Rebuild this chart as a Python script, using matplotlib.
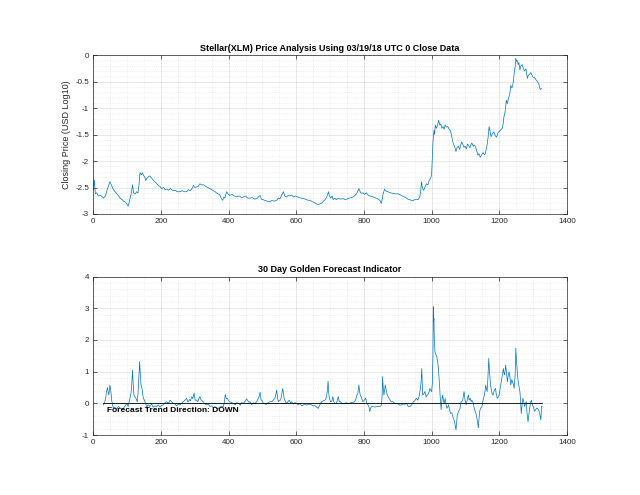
import matplotlib
matplotlib.use('Agg')
import matplotlib.pyplot as plt
from matplotlib.ticker import MultipleLocator

plt.rcParams['font.family'] = ['Liberation Sans', 'DejaVu Sans']

# log10 closing price
price_day = [0, 3, 6, 10, 15, 22, 30, 36, 40, 45, 49, 53, 58, 64, 70, 75, 79, 85, 90, 94, 98, 103, 106, 108,
             112, 116, 119, 124, 128, 132, 135, 138, 142, 145, 148, 152, 155, 158, 162, 167, 172, 177, 182,
             188, 193, 197, 202, 208, 212, 217, 222, 228, 236, 242, 248, 256, 262, 270, 276, 281, 286, 292,
             296, 300, 305, 310, 315, 320, 326, 332, 338, 345, 352, 360, 366, 374, 378, 382, 386, 389, 394,
             398, 404, 410, 416, 424, 432, 438, 443, 450, 456, 463, 470, 476, 483, 488, 493, 497, 502, 510,
             516, 522, 528, 534, 542, 547, 552, 557, 562, 566, 571, 576, 581, 586, 592, 597, 601, 608, 614,
             621, 628, 634, 640, 648, 655, 660, 665, 670, 676, 680, 685, 690, 695, 698, 702, 706, 709, 714,
             718, 724, 730, 738, 745, 752, 757, 764, 772, 778, 785, 789, 792, 797, 802, 807, 812, 817, 824,
             832, 840, 847, 851, 854, 856, 861, 866, 871, 878, 886, 893, 901, 908, 916, 924, 930, 936, 941,
             945, 950, 955, 960, 965, 968, 970, 973, 977, 981, 985, 989, 993, 997, 1000, 1002, 1004, 1007,
             1009, 1011, 1014, 1017, 1021, 1024, 1027, 1030, 1034, 1037, 1040, 1044, 1048, 1052, 1056, 1060,
             1064, 1068, 1072, 1075, 1079, 1083, 1086, 1089, 1093, 1096, 1099, 1103, 1106, 1109, 1113, 1116,
             1119, 1123, 1126, 1129, 1133, 1137, 1140, 1144, 1148, 1152, 1156, 1159, 1162, 1164, 1167, 1170,
             1173, 1176, 1180, 1184, 1188, 1192, 1196, 1199, 1203, 1206, 1209, 1212, 1214, 1217, 1221, 1224,
             1227, 1229, 1232, 1234, 1237, 1239, 1242, 1244, 1247, 1249, 1251, 1253, 1256, 1258, 1261, 1264,
             1268, 1271, 1275, 1279, 1283, 1286, 1290, 1293, 1297, 1300, 1303, 1307, 1310, 1313, 1317, 1321,
             1325]
price_log = [-2.55, -2.36, -2.62, -2.60, -2.66, -2.65, -2.70, -2.66, -2.56, -2.47, -2.39, -2.45, -2.52, -2.58,
             -2.62, -2.66, -2.70, -2.73, -2.76, -2.77, -2.80, -2.85, -2.78, -2.72, -2.62, -2.45, -2.60, -2.62,
             -2.58, -2.60, -2.45, -2.22, -2.26, -2.22, -2.27, -2.30, -2.37, -2.33, -2.30, -2.28, -2.32, -2.36,
             -2.39, -2.43, -2.47, -2.48, -2.52, -2.50, -2.54, -2.53, -2.55, -2.52, -2.56, -2.55, -2.58, -2.58,
             -2.56, -2.58, -2.58, -2.54, -2.56, -2.52, -2.46, -2.50, -2.49, -2.48, -2.43, -2.45, -2.45, -2.48,
             -2.50, -2.52, -2.55, -2.58, -2.61, -2.64, -2.70, -2.74, -2.68, -2.70, -2.58, -2.62, -2.65, -2.63,
             -2.66, -2.67, -2.66, -2.69, -2.68, -2.66, -2.70, -2.70, -2.69, -2.72, -2.71, -2.68, -2.65, -2.72,
             -2.73, -2.75, -2.76, -2.77, -2.74, -2.76, -2.74, -2.70, -2.71, -2.64, -2.58, -2.66, -2.68, -2.65,
             -2.66, -2.64, -2.68, -2.66, -2.67, -2.69, -2.70, -2.71, -2.72, -2.74, -2.74, -2.77, -2.79, -2.81,
             -2.82, -2.81, -2.79, -2.76, -2.73, -2.68, -2.58, -2.66, -2.70, -2.66, -2.73, -2.70, -2.73, -2.70,
             -2.72, -2.71, -2.73, -2.71, -2.70, -2.69, -2.66, -2.62, -2.52, -2.58, -2.61, -2.60, -2.63, -2.60,
             -2.64, -2.66, -2.67, -2.69, -2.71, -2.74, -2.80, -2.73, -2.64, -2.53, -2.57, -2.58, -2.60, -2.61,
             -2.62, -2.62, -2.64, -2.67, -2.69, -2.72, -2.73, -2.75, -2.75, -2.73, -2.72, -2.73, -2.68, -2.55,
             -2.39, -2.52, -2.55, -2.48, -2.43, -2.45, -2.37, -2.33, -2.26, -1.95, -1.65, -1.42, -1.50, -1.32,
             -1.38, -1.34, -1.23, -1.32, -1.30, -1.38, -1.35, -1.40, -1.32, -1.36, -1.35, -1.40, -1.43, -1.55,
             -1.67, -1.72, -1.82, -1.75, -1.72, -1.78, -1.70, -1.64, -1.70, -1.74, -1.72, -1.77, -1.68, -1.70,
             -1.75, -1.70, -1.66, -1.72, -1.70, -1.72, -1.80, -1.89, -1.86, -1.93, -1.88, -1.84, -1.88, -1.86,
             -1.75, -1.70, -1.55, -1.35, -1.45, -1.54, -1.48, -1.45, -1.52, -1.55, -1.47, -1.45, -1.42, -1.40,
             -1.38, -1.28, -1.16, -1.08, -0.85, -0.92, -0.82, -0.78, -0.70, -0.57, -0.62, -0.60, -0.48, -0.35,
             -0.22, -0.06, -0.12, -0.10, -0.18, -0.14, -0.28, -0.20, -0.18, -0.25, -0.30, -0.26, -0.44, -0.38,
             -0.36, -0.33, -0.38, -0.42, -0.42, -0.45, -0.48, -0.50, -0.55, -0.65, -0.63]

# forecast indicator
ind_day = [30, 34, 37, 39, 42, 44, 46, 49, 52, 55, 59, 63, 69, 74, 79, 84, 89, 94, 99, 103, 106, 108, 111, 113,
           116, 118, 120, 123, 126, 130, 132, 134, 137, 139, 141, 144, 146, 148, 151, 153, 156, 158, 161, 163,
           167, 172, 177, 182, 187, 192, 197, 202, 207, 212, 217, 222, 227, 231, 236, 241, 246, 251, 256, 261,
           266, 271, 276, 279, 281, 284, 287, 291, 294, 298, 301, 305, 309, 312, 315, 318, 322, 325, 330, 335,
           340, 345, 350, 355, 360, 365, 369, 374, 379, 384, 387, 390, 393, 396, 400, 404, 409, 414, 419, 424,
           429, 434, 438, 443, 448, 453, 457, 460, 463, 468, 473, 478, 483, 488, 491, 493, 496, 498, 503, 508,
           512, 517, 522, 527, 532, 537, 540, 542, 545, 547, 551, 554, 557, 560, 562, 564, 568, 571, 575, 579,
           583, 586, 591, 596, 601, 606, 611, 616, 621, 626, 631, 636, 640, 645, 650, 655, 660, 665, 668, 672,
           675, 680, 685, 688, 690, 692, 694, 696, 698, 701, 704, 706, 708, 711, 714, 718, 721, 724, 727, 730,
           734, 738, 743, 748, 752, 757, 762, 767, 772, 776, 779, 782, 785, 787, 789, 792, 795, 797, 801, 805,
           808, 812, 815, 817, 820, 824, 827, 832, 837, 842, 847, 850, 852, 854, 855, 857, 859, 861, 863, 866,
           869, 872, 877, 881, 886, 891, 896, 901, 906, 911, 916, 921, 926, 931, 936, 941, 946, 950, 955, 959,
           963, 967, 969, 971, 973, 974, 977, 980, 984, 987, 991, 995, 998, 1000, 1002, 1004, 1005, 1006, 1007,
           1008, 1010, 1012, 1015, 1018, 1020, 1022, 1024, 1025, 1027, 1028, 1030, 1032, 1035, 1037, 1040,
           1043, 1045, 1048, 1050, 1053, 1056, 1060, 1064, 1067, 1070, 1072, 1074, 1076, 1080, 1084, 1087,
           1089, 1092, 1094, 1096, 1099, 1102, 1105, 1107, 1109, 1111, 1114, 1117, 1119, 1122, 1125, 1129,
           1132, 1134, 1136, 1138, 1140, 1142, 1145, 1149, 1152, 1156, 1158, 1160, 1162, 1164, 1166, 1169,
           1171, 1172, 1174, 1176, 1179, 1182, 1185, 1189, 1191, 1194, 1197, 1200, 1203, 1206, 1209, 1212,
           1214, 1216, 1219, 1222, 1224, 1227, 1229, 1232, 1234, 1237, 1239, 1242, 1244, 1247, 1249, 1251,
           1252, 1254, 1256, 1259, 1261, 1263, 1265, 1267, 1270, 1272, 1275, 1278, 1280, 1282, 1285, 1287,
           1290, 1293, 1295, 1298, 1301, 1304, 1308, 1310, 1313, 1316, 1318, 1321, 1323, 1325, 1327]
ind_val = [-0.05, 0.05, 0.2, 0.37, 0.5, 0.35, 0.26, 0.58, 0.37, 0.05, -0.16, -0.12, -0.18, -0.10, -0.14, -0.20,
           -0.16, -0.08, 0.0, -0.10, 0.05, 0.16, 0.30, 0.47, 1.05, 0.60, 0.26, 0.20, 0.16, 0.05, 0.30, 0.68,
           1.32, 0.90, 0.58, 0.47, 0.30, 0.16, 0.10, 0.05, -0.05, -0.16, -0.05, -0.05, -0.10, -0.02, -0.12,
           -0.08, -0.10, -0.05, -0.12, -0.06, -0.05, 0.02, 0.05, 0.0, 0.10, 0.05, 0.0, -0.02, -0.08, -0.03,
           -0.05, 0.0, 0.05, 0.10, 0.16, 0.05, 0.05, 0.12, 0.08, 0.21, 0.15, 0.32, 0.10, 0.10, 0.05, 0.15, 0.21,
           0.12, 0.08, 0.05, -0.02, -0.05, -0.03, -0.10, -0.08, -0.14, -0.10, -0.16, -0.16, -0.12, -0.10,
           -0.10, 0.0, 0.28, 0.15, 0.16, 0.08, 0.05, 0.02, 0.0, -0.05, 0.02, 0.0, -0.06, 0.02, 0.0, 0.05, 0.14,
           0.08, 0.03, 0.05, -0.04, 0.02, 0.0, 0.05, 0.16, 0.25, 0.35, 0.10, 0.10, 0.0, -0.02, -0.03, 0.02,
           0.05, 0.05, 0.10, 0.16, 0.30, 0.42, 0.15, 0.05, 0.10, 0.10, 0.30, 0.47, 0.30, 0.16, 0.05, 0.0, 0.05,
           0.10, 0.02, 0.05, -0.02, 0.02, 0.0, -0.05, 0.0, -0.08, -0.05, -0.02, -0.06, -0.03, -0.03, -0.05,
           -0.08, -0.07, -0.12, -0.16, -0.08, 0.0, 0.05, 0.08, 0.10, 0.16, 0.26, 0.40, 0.70, 0.30, 0.16, 0.05,
           0.05, 0.10, 0.21, 0.05, 0.0, 0.0, 0.08, 0.21, 0.05, 0.05, 0.02, -0.02, 0.0, 0.02, 0.0, 0.0, 0.02,
           0.03, 0.05, 0.12, 0.26, 0.30, 0.58, 0.40, 0.26, 0.20, 0.10, 0.05, 0.10, 0.16, 0.02, -0.05, -0.12,
           -0.26, -0.14, -0.10, -0.10, -0.12, -0.10, -0.10, -0.10, -0.08, -0.05, 0.30, 0.84, 0.50, 0.26, 0.40,
           0.58, 0.40, 0.26, 0.20, 0.10, 0.05, 0.05, 0.0, 0.0, -0.02, -0.06, -0.05, -0.02, -0.03, 0.0, -0.10,
           -0.10, -0.05, 0.05, 0.08, 0.16, 0.10, 0.21, 0.47, 0.70, 1.10, 0.40, 0.26, 0.30, 0.37, 0.20, 0.26,
           0.30, 0.47, 0.40, 0.37, 0.60, 1.50, 3.05, 2.60, 2.68, 2.00, 1.63, 1.55, 1.50, 1.30, 1.10, 0.80, 0.50,
           0.26, 0.0, -0.20, 0.05, 0.26, 0.10, 0.0, 0.15, -0.05, -0.16, -0.10, -0.05, -0.20, -0.32, -0.30,
           -0.47, -0.55, -0.70, -0.84, -0.60, -0.37, -0.25, -0.16, 0.05, 0.05, 0.10, 0.25, 0.37, 0.10, -0.05,
           0.10, 0.20, 0.26, 0.10, 0.16, 0.05, 0.10, 0.05, -0.10, -0.26, -0.35, -0.47, -0.60, -0.77, -0.50,
           -0.26, -0.15, -0.10, 0.10, 0.26, 0.40, 0.58, 0.45, 0.37, 0.70, 1.42, 1.00, 0.90, 0.60, 0.47, 0.30,
           0.26, 0.40, 0.47, 0.30, 0.16, 0.20, 0.26, 0.50, 0.68, 0.90, 1.10, 0.95, 0.90, 1.21, 0.90, 0.68, 0.90,
           1.00, 0.80, 0.58, 0.75, 0.68, 0.60, 0.47, 0.90, 1.74, 1.30, 1.20, 0.90, 0.68, 0.50, 0.37, 0.10,
           -0.32, -0.10, 0.16, 0.05, -0.10, 0.0, 0.05, -0.30, -0.58, -0.40, -0.16, 0.05, 0.10, -0.05, -0.10,
           -0.25, -0.20, -0.15, -0.16, -0.20, -0.26, -0.40, -0.52, -0.10, -0.10]

title_top = 'Stellar(XLM) Price Analysis Using 03/19/18 UTC 0 Close Data'
title_bottom = '30 Day Golden Forecast Indicator'
ylabel_top = 'Closing Price (USD Log10)'
trend_text = 'Forecast Trend Direction: DOWN'

line_col = '#0072BD'
axis_col = '#262626'


def style_axes(ax, ymin, ymax, ystep, yminor):
    ax.set_xlim(0, 1400)
    ax.set_ylim(ymin, ymax)
    ax.xaxis.set_major_locator(MultipleLocator(200))
    ax.xaxis.set_minor_locator(MultipleLocator(50))
    ax.yaxis.set_major_locator(MultipleLocator(ystep))
    ax.yaxis.set_minor_locator(MultipleLocator(yminor))
    ax.grid(True, which='major', color=axis_col, alpha=0.15, linewidth=0.5)
    ax.grid(True, which='minor', color=axis_col, alpha=0.12, linewidth=0.5, linestyle=':')
    ax.set_axisbelow(True)
    ax.tick_params(which='major', direction='in', length=3, width=0.5, top=True, right=True,
                   labelsize=5.8, colors=axis_col, pad=3)
    ax.tick_params(which='minor', length=0, top=True, right=True)
    for s in ax.spines.values():
        s.set_color(axis_col)
        s.set_linewidth(0.5)
    ax.yaxis.set_major_formatter(plt.FuncFormatter(lambda v, p: '%g' % v))


fig = plt.figure(figsize=(6.4, 4.95), dpi=100)

ax1 = fig.add_axes([0.1458, 0.5677, 0.740, 0.321])
ax1.plot(price_day, price_log, color=line_col, linewidth=0.5)
style_axes(ax1, -3, 0, 0.5, 0.1)
ax1.set_title(title_top, fontsize=6.5, fontweight='bold', color='black', pad=3)
ax1.set_ylabel(ylabel_top, fontsize=6.5, color=axis_col, labelpad=3)

ax2 = fig.add_axes([0.1458, 0.1212, 0.740, 0.320])
ax2.plot(ind_day, ind_val, color=line_col, linewidth=0.5)
ax2.plot([ind_day[0], ind_day[-1]], [0, 0], color='black', linewidth=0.6)
style_axes(ax2, -1, 4, 1, 0.2)
ax2.set_title(title_bottom, fontsize=6.5, fontweight='bold', color='black', pad=3)
ax2.text(40, -0.23, trend_text, fontsize=6, fontweight='bold', va='center', ha='left', color='black')

fig.savefig('out.png', dpi=100)
